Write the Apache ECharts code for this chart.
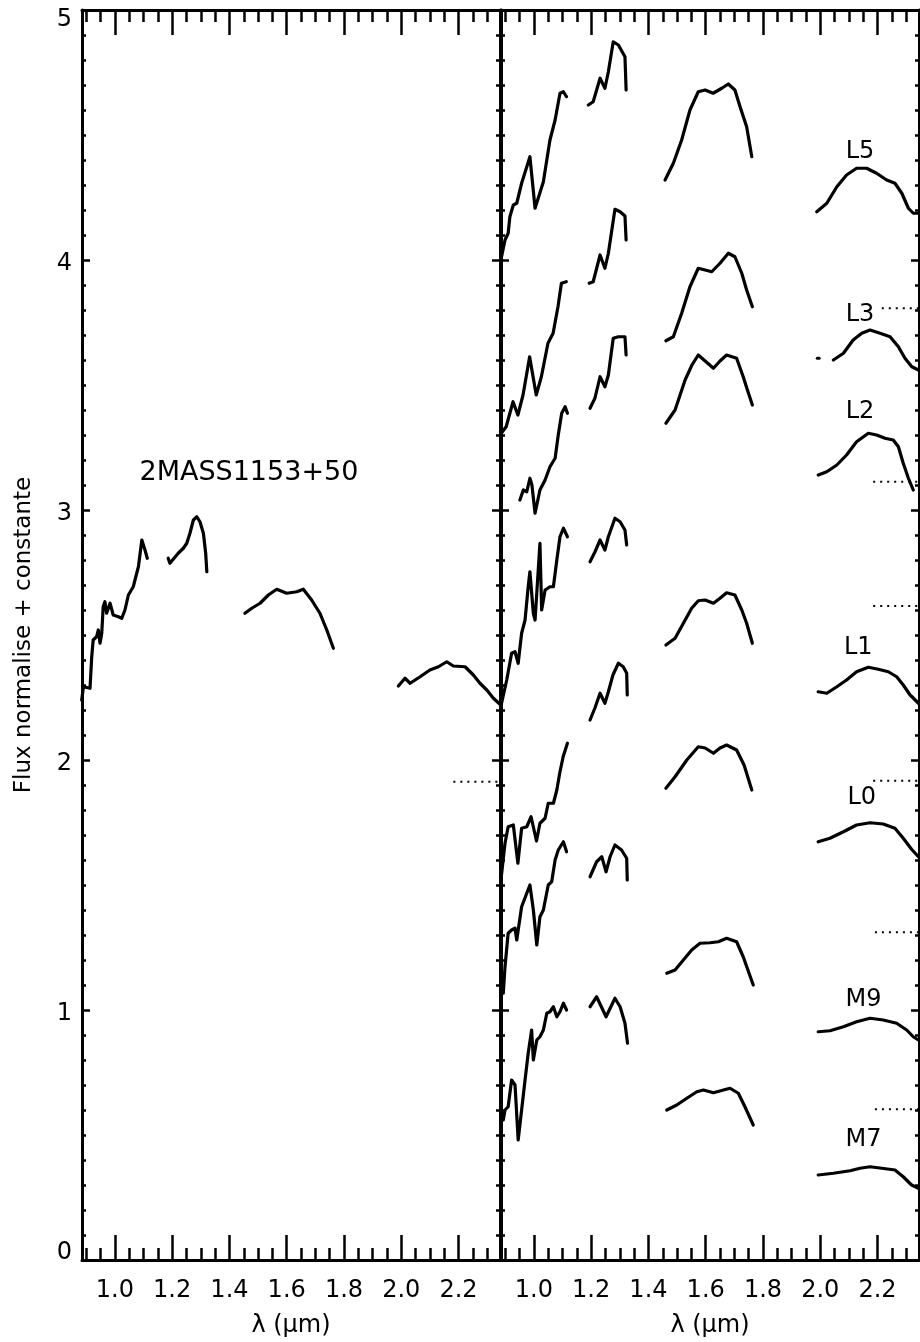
<!DOCTYPE html>
<html>
<head>
<meta charset="utf-8">
<script src="https://cdn.jsdelivr.net/npm/echarts@6/dist/echarts.min.js"></script>
<style>
html, body { margin: 0; padding: 0; background: #fff; }
#chart { width: 920px; height: 1342px; }
</style>
</head>
<body>
<div id="chart"></div>
<script>
// ---- Spectrum of 2MASS1153+50 (left panel): [wavelength µm, normalised flux + offset] ----
const obj_z = [[0.884,2.24],[0.890,2.293],[0.913,2.287],[0.919,2.413],[0.924,2.48],[0.936,2.493],[0.942,2.52],[0.948,2.467],[0.954,2.507],[0.959,2.613],[0.965,2.633],[0.971,2.587],[0.983,2.627],[0.994,2.58],[1.012,2.573],[1.024,2.567],[1.035,2.60],[1.047,2.66],[1.064,2.693],[1.082,2.773],[1.094,2.88],[1.105,2.84],[1.113,2.807]];
const obj_j = [[1.186,2.807],[1.192,2.787],[1.221,2.827],[1.239,2.847],[1.251,2.867],[1.262,2.907],[1.274,2.96],[1.286,2.973],[1.297,2.953],[1.309,2.907],[1.317,2.827],[1.321,2.753]];
const obj_h = [[1.454,2.587],[1.478,2.607],[1.507,2.627],[1.536,2.66],[1.565,2.683],[1.600,2.667],[1.635,2.673],[1.658,2.683],[1.687,2.64],[1.716,2.587],[1.740,2.52],[1.763,2.447]];
const obj_k = [[1.990,2.296],[2.013,2.327],[2.031,2.307],[2.066,2.333],[2.100,2.36],[2.130,2.373],[2.159,2.393],[2.182,2.376],[2.223,2.373],[2.252,2.34],[2.275,2.307],[2.299,2.28],[2.322,2.247],[2.343,2.225]];
const obj_zero = 1.913, obj_zeroFrom = 2.182;

// ---- Template spectra (right panel) ----
const L5_z = [[0.887,4.013],[0.899,4.08],[0.910,4.107],[0.916,4.173],[0.928,4.22],[0.940,4.227],[0.957,4.307],[0.986,4.413],[1.004,4.207],[1.033,4.313],[1.056,4.48],[1.074,4.56],[1.091,4.667],[1.103,4.673],[1.114,4.653]];
const L5_j = [[1.190,4.62],[1.207,4.633],[1.231,4.727],[1.248,4.687],[1.260,4.753],[1.277,4.873],[1.295,4.86],[1.318,4.813],[1.322,4.68]];
const L5_h = [[1.458,4.32],[1.487,4.387],[1.516,4.48],[1.545,4.6],[1.574,4.673],[1.598,4.68],[1.626,4.667],[1.656,4.687],[1.679,4.704],[1.702,4.68],[1.720,4.613],[1.743,4.533],[1.761,4.413]];
const L5_k = [[1.988,4.193],[2.023,4.227],[2.058,4.293],[2.092,4.34],[2.127,4.367],[2.162,4.367],[2.197,4.347],[2.232,4.32],[2.261,4.307],[2.285,4.267],[2.308,4.207],[2.325,4.187],[2.343,4.187]];

const L3_z = [[0.886,3.307],[0.903,3.333],[0.927,3.433],[0.944,3.38],[0.962,3.46],[0.985,3.613],[1.008,3.46],[1.026,3.533],[1.049,3.667],[1.067,3.707],[1.084,3.813],[1.096,3.907],[1.102,3.913],[1.113,3.913]];
const L3_j = [[1.193,3.907],[1.207,3.913],[1.231,4.02],[1.248,3.967],[1.260,4.027],[1.283,4.203],[1.301,4.193],[1.318,4.176],[1.322,4.08]];
const L3_h = [[1.461,3.677],[1.487,3.693],[1.516,3.787],[1.545,3.893],[1.574,3.967],[1.598,3.96],[1.621,3.953],[1.650,3.987],[1.679,4.027],[1.702,4.013],[1.726,3.947],[1.743,3.88],[1.763,3.813]];
const L3_k0 = [[1.990,3.607],[1.996,3.607]];
const L3_k = [[2.046,3.6],[2.081,3.627],[2.115,3.68],[2.145,3.707],[2.174,3.72],[2.209,3.707],[2.244,3.693],[2.273,3.653],[2.296,3.607],[2.320,3.573],[2.343,3.56]];

const L2_z = [[0.951,3.04],[0.963,3.08],[0.975,3.073],[0.986,3.127],[0.993,3.10],[1.004,2.987],[1.021,3.08],[1.039,3.12],[1.056,3.173],[1.074,3.207],[1.085,3.30],[1.097,3.387],[1.109,3.413],[1.117,3.387]];
const L2_j = [[1.196,3.407],[1.213,3.447],[1.231,3.533],[1.248,3.493],[1.260,3.54],[1.277,3.687],[1.295,3.693],[1.318,3.693],[1.322,3.62]];
const L2_h = [[1.461,3.347],[1.493,3.40],[1.528,3.52],[1.552,3.58],[1.574,3.62],[1.598,3.596],[1.627,3.567],[1.650,3.596],[1.673,3.62],[1.708,3.607],[1.731,3.533],[1.748,3.472],[1.763,3.42]];
const L2_k = [[1.993,3.14],[2.023,3.153],[2.058,3.18],[2.092,3.22],[2.127,3.273],[2.168,3.307],[2.197,3.30],[2.226,3.287],[2.255,3.28],[2.273,3.253],[2.290,3.187],[2.308,3.127],[2.325,3.08]];

const L1_z = [[0.887,2.227],[0.905,2.32],[0.922,2.427],[0.934,2.433],[0.945,2.387],[0.957,2.507],[0.969,2.56],[0.980,2.693],[0.986,2.753],[0.998,2.587],[1.004,2.56],[1.021,2.867],[1.027,2.60],[1.039,2.68],[1.056,2.693],[1.068,2.693],[1.080,2.80],[1.091,2.893],[1.103,2.927],[1.117,2.893]];
const L1_j = [[1.196,2.793],[1.213,2.832],[1.231,2.88],[1.248,2.84],[1.260,2.893],[1.283,2.967],[1.301,2.953],[1.318,2.92],[1.324,2.86]];
const L1_h = [[1.461,2.46],[1.493,2.487],[1.522,2.547],[1.551,2.607],[1.574,2.637],[1.598,2.64],[1.627,2.627],[1.650,2.647],[1.673,2.669],[1.702,2.66],[1.726,2.60],[1.743,2.547],[1.763,2.467]];
const L1_k = [[1.993,2.273],[2.023,2.267],[2.058,2.293],[2.092,2.32],[2.127,2.353],[2.168,2.371],[2.203,2.363],[2.238,2.353],[2.267,2.333],[2.290,2.30],[2.314,2.26],[2.343,2.227]];

const L0_z = [[0.886,1.533],[0.899,1.667],[0.910,1.733],[0.928,1.74],[0.944,1.587],[0.957,1.727],[0.975,1.733],[0.990,1.773],[1.009,1.676],[1.021,1.747],[1.039,1.767],[1.050,1.827],[1.068,1.827],[1.080,1.88],[1.090,1.947],[1.102,2.013],[1.117,2.067]];
const L0_j = [[1.196,2.16],[1.213,2.208],[1.231,2.267],[1.248,2.227],[1.260,2.273],[1.276,2.34],[1.295,2.387],[1.312,2.373],[1.324,2.347],[1.326,2.26]];
const L0_h = [[1.461,1.887],[1.493,1.933],[1.534,2.0],[1.574,2.053],[1.598,2.048],[1.627,2.027],[1.650,2.048],[1.673,2.06],[1.708,2.04],[1.734,1.98],[1.761,1.88]];
const L0_k = [[1.993,1.673],[2.034,1.687],[2.081,1.713],[2.127,1.74],[2.174,1.749],[2.220,1.744],[2.261,1.727],[2.290,1.687],[2.319,1.643],[2.343,1.613]];

const M9_z = [[0.893,1.067],[0.899,1.173],[0.910,1.307],[0.922,1.32],[0.934,1.327],[0.940,1.28],[0.957,1.413],[0.975,1.467],[0.986,1.50],[0.998,1.40],[1.010,1.26],[1.021,1.373],[1.033,1.40],[1.050,1.50],[1.062,1.513],[1.074,1.60],[1.085,1.64],[1.103,1.673],[1.114,1.633]];
const M9_j = [[1.196,1.533],[1.219,1.593],[1.237,1.613],[1.252,1.553],[1.266,1.613],[1.283,1.66],[1.306,1.64],[1.324,1.607],[1.326,1.52]];
const M9_h = [[1.464,1.147],[1.493,1.16],[1.522,1.20],[1.551,1.24],[1.580,1.267],[1.615,1.269],[1.644,1.273],[1.673,1.287],[1.708,1.273],[1.731,1.213],[1.766,1.10]];
const M9_k = [[1.993,0.913],[2.034,0.917],[2.081,0.933],[2.127,0.953],[2.174,0.967],[2.220,0.96],[2.267,0.947],[2.302,0.92],[2.325,0.893],[2.343,0.88]];

const M7_z = [[0.893,0.56],[0.899,0.60],[0.910,0.613],[0.922,0.72],[0.934,0.70],[0.945,0.48],[0.957,0.60],[0.969,0.72],[0.980,0.827],[0.992,0.92],[0.998,0.80],[1.010,0.88],[1.021,0.893],[1.033,0.92],[1.045,0.987],[1.056,0.993],[1.068,1.013],[1.080,0.973],[1.091,0.993],[1.103,1.027],[1.114,1.0]];
const M7_j = [[1.196,1.013],[1.219,1.053],[1.252,0.973],[1.283,1.047],[1.301,1.013],[1.318,0.947],[1.327,0.867]];
const M7_h = [[1.464,0.60],[1.499,0.62],[1.534,0.647],[1.569,0.673],[1.592,0.68],[1.627,0.669],[1.662,0.68],[1.685,0.687],[1.714,0.667],[1.737,0.613],[1.766,0.54]];
const M7_k = [[1.993,0.34],[2.046,0.347],[2.104,0.357],[2.139,0.367],[2.174,0.373],[2.215,0.367],[2.261,0.36],[2.290,0.333],[2.319,0.30],[2.343,0.287]];

// spectral-type labels placed next to the K band of each template
const spTypes = ['L5', 'L3', 'L2', 'L1', 'L0', 'M9', 'M7'];
const spTypeX = [2.139, 2.139, 2.139, 2.133, 2.145, 2.151, 2.151];
const spTypeY = [4.433, 3.780, 3.393, 2.447, 1.847, 1.040, 0.480];

// dotted zero-level markers on the right panel
const zeroLevels = [3.807, 3.113, 2.616, 1.917, 1.311, 0.603];
const zeroFrom   = [2.215, 2.185, 2.185, 2.185, 2.191, 2.191];

// axis ticks
const xMajor = [1.0, 1.2, 1.4, 1.6, 1.8, 2.0, 2.2];
const xMinor = [0.90, 0.95, 1.05, 1.10, 1.15, 1.25, 1.30, 1.35, 1.45, 1.50, 1.55, 1.65, 1.70, 1.75,
                1.85, 1.90, 1.95, 2.05, 2.10, 2.15, 2.25, 2.30];
const X_MIN = 0.885, X_MAX = 2.345;

const INK = '#000';
const FONT = '"DejaVu Sans", "Liberation Sans", sans-serif';

function xAxesFor(g) {
  const base = { gridIndex: g, type: 'value', min: X_MIN, max: X_MAX, splitLine: { show: false } };
  return [
    Object.assign({}, base, {
      position: 'bottom', offset: 0,
      axisLine: { show: true, onZero: false, lineStyle: { color: INK, width: 3 } },
      axisTick: { show: true, inside: true, length: 25, customValues: xMajor, lineStyle: { color: INK, width: 2.5 } },
      axisLabel: { show: true, customValues: xMajor, formatter: v => v.toFixed(1),
                   fontSize: 24, color: INK, fontFamily: FONT, margin: 19 },
      name: 'λ (μm)', nameLocation: 'middle', nameGap: 54, nameMoveOverlap: false,
      nameTextStyle: { fontSize: 24, color: INK, fontFamily: FONT }
    }),
    Object.assign({}, base, {
      position: 'bottom', offset: 0,
      axisLine: { show: false, onZero: false },
      axisTick: { show: true, inside: true, length: 12, customValues: xMinor, lineStyle: { color: INK, width: 2.5 } },
      axisLabel: { show: false }
    }),
    Object.assign({}, base, {
      position: 'top', offset: 0,
      axisLine: { show: true, onZero: false, lineStyle: { color: INK, width: 3 } },
      axisTick: { show: true, inside: true, length: 25, customValues: xMajor, lineStyle: { color: INK, width: 2.5 } },
      axisLabel: { show: false }
    }),
    Object.assign({}, base, {
      position: 'top', offset: 0,
      axisLine: { show: false, onZero: false },
      axisTick: { show: true, inside: true, length: 12, customValues: xMinor, lineStyle: { color: INK, width: 2.5 } },
      axisLabel: { show: false }
    })
  ];
}

function yAxesFor(g) {
  const base = {
    gridIndex: g, type: 'value', min: 0, max: 5, interval: 1,
    axisLine: { show: true, onZero: false, lineStyle: { color: INK, width: 3 } },
    axisTick: { show: true, inside: true, length: 8, lineStyle: { color: INK, width: 2.5 } },
    minorTick: { show: true, splitNumber: 10, length: 4, lineStyle: { color: INK, width: 2.5 } },
    splitLine: { show: false }, minorSplitLine: { show: false }
  };
  const left = Object.assign({}, base, {
    position: 'left',
    axisLabel: {
      show: g === 0, fontSize: 24, color: INK, fontFamily: FONT, margin: 10,
      // end labels sit just inside the frame, the others slightly under their tick
      formatter: v => (v === 5 ? '{top|5}' : v === 0 ? '{bot|0}' : '{mid|' + v + '}'),
      rich: {
        top: { fontSize: 24, fontFamily: FONT, color: INK, padding: [20, 0, 0, 0] },
        mid: { fontSize: 24, fontFamily: FONT, color: INK, padding: [7, 0, 0, 0] },
        bot: { fontSize: 24, fontFamily: FONT, color: INK, padding: [0, 0, 14, 0] }
      }
    }
  });
  if (g === 0) {
    Object.assign(left, {
      name: 'Flux normalise + constante', nameLocation: 'middle', nameGap: 46, nameRotate: 90,
      nameMoveOverlap: false,
      nameTextStyle: { fontSize: 23, color: INK, fontFamily: FONT }
    });
  }
  const right = Object.assign({}, base, { position: 'right', axisLabel: { show: false } });
  return [left, right];
}

function spectrum(data, xi, yi) {
  return {
    type: 'line', xAxisIndex: xi, yAxisIndex: yi, data: data,
    showSymbol: false, symbol: 'none', silent: true, animation: false,
    lineStyle: { color: INK, width: 3.2, join: 'round', cap: 'round' }, z: 3
  };
}

function dotted(level, from, xi, yi) {
  return {
    type: 'line', xAxisIndex: xi, yAxisIndex: yi, data: [[from, level], [X_MAX, level]],
    showSymbol: false, symbol: 'none', silent: true, animation: false,
    lineStyle: { color: INK, width: 2.2, type: [2, 5] }, z: 3
  };
}

const leftSegments = [obj_z, obj_j, obj_h, obj_k];
const rightSegments = [
  L5_z, L5_j, L5_h, L5_k,
  L3_z, L3_j, L3_h, L3_k0, L3_k,
  L2_z, L2_j, L2_h, L2_k,
  L1_z, L1_j, L1_h, L1_k,
  L0_z, L0_j, L0_h, L0_k,
  M9_z, M9_j, M9_h, M9_k,
  M7_z, M7_j, M7_h, M7_k
];

const series = [];
leftSegments.forEach(s => series.push(spectrum(s, 0, 0)));
series.push(dotted(obj_zero, obj_zeroFrom, 0, 0));
rightSegments.forEach(s => series.push(spectrum(s, 4, 2)));
zeroLevels.forEach((lv, i) => series.push(dotted(lv, zeroFrom[i], 4, 2)));

const textLabel = (size) => ({
  show: true, position: 'inside', formatter: p => p.value[2],
  fontSize: size, color: INK, fontFamily: FONT, textBorderWidth: 0, opacity: 1
});

// object name in the left panel
series.push({
  type: 'scatter', xAxisIndex: 0, yAxisIndex: 0, silent: true, animation: false,
  symbolSize: 1, itemStyle: { color: 'rgba(0,0,0,0)' },
  data: [[1.468, 3.147, '2MASS1153+50']],
  label: textLabel(27)
});
// spectral types in the right panel
series.push({
  type: 'scatter', xAxisIndex: 4, yAxisIndex: 2, silent: true, animation: false,
  symbolSize: 1, itemStyle: { color: 'rgba(0,0,0,0)' },
  data: spTypes.map((t, i) => [spTypeX[i], spTypeY[i], t]),
  label: textLabel(24)
});

const chart = echarts.init(document.getElementById('chart'), null, { renderer: 'canvas' });
chart.setOption({
  animation: false,
  backgroundColor: '#fff',
  grid: [
    { left: 82, top: 10, width: 418, height: 1250, outerBoundsMode: 'none', containLabel: false },
    { left: 501, top: 10, width: 418, height: 1250, outerBoundsMode: 'none', containLabel: false }
  ],
  xAxis: xAxesFor(0).concat(xAxesFor(1)),
  yAxis: yAxesFor(0).concat(yAxesFor(1)),
  series: series
});
</script>
</body>
</html>
